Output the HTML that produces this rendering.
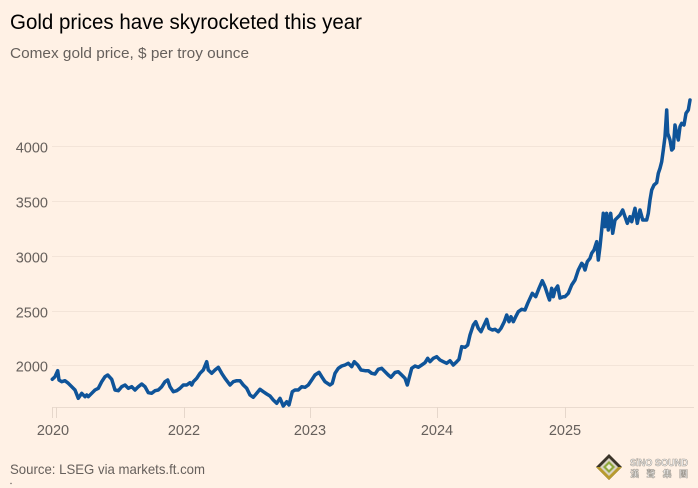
<!DOCTYPE html>
<html>
<head>
<meta charset="utf-8">
<style>
  html, body { margin:0; padding:0; background:#FFF1E5; }
  body { width:698px; height:488px; overflow:hidden; }
  svg { display:block; }
  text { font-family: "Liberation Sans", "Noto Sans CJK TC", sans-serif; }
</style>
</head>
<body>
<svg width="698" height="488" viewBox="0 0 698 488" xmlns="http://www.w3.org/2000/svg">
  <rect x="0" y="0" width="698" height="488" fill="#FFF1E5"/>

  <!-- Title / subtitle -->
  <text x="10" y="29" font-size="21" fill="#000000" textLength="352" lengthAdjust="spacingAndGlyphs">Gold prices have skyrocketed this year</text>
  <text x="10" y="58" font-size="15" fill="#66605C" textLength="239" lengthAdjust="spacingAndGlyphs">Comex gold price, $ per troy ounce</text>

  <!-- Gridlines -->
  <g stroke="#F3E4D8" stroke-width="1">
    <line x1="52" y1="146.5" x2="694" y2="146.5"/>
    <line x1="52" y1="201.5" x2="694" y2="201.5"/>
    <line x1="52" y1="256.5" x2="694" y2="256.5"/>
    <line x1="52" y1="311.5" x2="694" y2="311.5"/>
    <line x1="52" y1="365.5" x2="694" y2="365.5"/>
  </g>
  <line x1="52" y1="407.5" x2="694" y2="407.5" stroke="#EADBCF" stroke-width="1"/>

  <!-- X ticks -->
  <g stroke="#E6D7CB" stroke-width="1">
    <line x1="52.5" y1="407" x2="52.5" y2="418"/>
    <line x1="56.5" y1="407" x2="56.5" y2="418"/>
    <line x1="184.5" y1="407" x2="184.5" y2="418"/>
    <line x1="310.5" y1="407" x2="310.5" y2="418"/>
    <line x1="437.5" y1="407" x2="437.5" y2="418"/>
    <line x1="565.5" y1="407" x2="565.5" y2="418"/>
  </g>

  <!-- Y labels -->
  <g font-size="14.5" fill="#66605C" text-anchor="end">
    <text x="48" y="152.5">4000</text>
    <text x="48" y="207.5">3500</text>
    <text x="48" y="262.5">3000</text>
    <text x="48" y="317.5">2500</text>
    <text x="48" y="371.5">2000</text>
  </g>

  <!-- X labels -->
  <g font-size="14.5" fill="#66605C" text-anchor="middle">
    <text x="53" y="435">2020</text>
    <text x="184" y="435">2022</text>
    <text x="310" y="435">2023</text>
    <text x="437" y="435">2024</text>
    <text x="565" y="435">2025</text>
  </g>

  <!-- Series -->
  <polyline fill="none" stroke="#0F5499" stroke-width="3.5" stroke-linejoin="round" stroke-linecap="round"
    points="52.3,379.3 55,376.7 57.7,370.7 59,380 61.7,381.7 65,380.7 68.3,383.3 71.7,386.7 75,390 78.3,398.3 81.7,393.3 85,396.7 86.7,395 88.3,396.7 91.7,393.3 95,390 98.3,388.3 101.7,381.7 105,376.7 107.7,375 111.7,379.3 115,390 118.3,390.7 121.7,386.7 125,385 128.3,388.3 131.7,386.7 135,390 138.3,386.7 141.7,384 145,386.7 148.3,392.7 151.7,393.3 155,390.7 158.3,390 161.7,386.7 165,381.7 167.7,380 170,386.7 173.3,391.7 176.7,390.7 180,388.3 183.3,385 186.7,385 190,382.7 191.7,385 193.3,381.7 196.7,378.3 200,373.3 203.3,370 206.7,361.7 208.3,370 211.7,373.3 215,370 218.3,367.3 221.7,373.3 225,378.3 230,385 233.3,381.7 236.7,380.7 240,380.7 243.3,385 246.7,388.3 250,395 253.3,397.3 256.7,393.3 260,389.3 263.3,391.7 266.7,394 270,396 273.3,400 276.7,403.3 280,398.3 283.3,406 286.7,401.7 289,405 292.3,391.7 295,390 298.3,390 301.7,386.7 305,387.3 308.3,385 311.7,380 315,375 319,372.3 321.7,376.7 325,381.7 330,385 332.3,383.3 335,373.3 338.3,368.3 341.7,366 345,365 348.3,363.3 351.7,366.7 354.3,361.7 357.7,365 361,370 365,370.7 368.3,370.7 371.7,373.3 375,374 378.3,369.3 381.7,368.3 385,371.7 388.3,375 391,377.3 395,372.5 398.3,371.7 401.7,375 405,378.3 407.3,385 411.7,368.3 415,366 418.3,367.3 421.7,365 425,362.7 427.7,358.3 430,361.7 433.3,358.3 436.7,356.7 440,360 443.3,361.7 446.7,363.3 450,360.7 453.3,365 456.7,361.7 459,359.3 461.7,346.7 465,347.3 467.7,345 470,335 473.3,325 475.7,321.7 478.3,328.3 481,331.7 483.3,326.7 486.7,319.3 489,328.3 492.3,330 495,329.3 498.3,331.7 501,328.3 504.3,321.7 506.7,315 509,321.7 511,316.7 513.3,321.7 515.7,316.7 518.3,311.7 521.7,309.3 525,310 527.7,303.3 530,298.3 532.3,293.3 535.7,296.7 539,288.3 542.3,280.7 545,286.7 548.3,296.7 549.5,300 551.7,288.3 553.3,296.7 555,290 557.7,286 560,298 563.3,296.7 565,296.7 568.3,293.3 571.7,285 575,280 578.3,270 581.7,263.3 583.3,265 585,270 587.3,261.7 590,258.3 591.7,253.3 594,250 596.7,241.7 598.3,260 600,246.7 601.7,230 603.3,213.3 605,226.7 606.7,213.3 608.3,230 610.7,213.3 612.7,233.3 615,220 616.7,218.3 620,215 622.7,210 625,216.7 627.3,223.3 630,216.7 631.7,221.7 635,208.3 637.3,223.3 640,210 642.7,220 646.7,220 648.3,213.3 650,200 651.7,190 654,185 656.7,182.7 658.3,173.3 660,168.3 661.7,161.7 663.3,150 665,136.7 666.7,110 667.7,133.3 670,140 671.7,150 673.3,148.3 675,125 676.7,133.3 678.3,140 680,126.7 681.7,123.3 684,125 686,113.3 688.3,110 690,100"/>

  <!-- Source -->
  <text x="10" y="474" font-size="14" fill="#66605C" textLength="195" lengthAdjust="spacingAndGlyphs">Source: LSEG via markets.ft.com</text>
  <circle cx="11" cy="483.5" r="0.7" fill="#66605C"/>

  <!-- Watermark -->
  <g>
    <polygon points="609,454 622,467 609,480 596,467" fill="#3B3428"/>
    <polygon points="596,467 622,467 609,480" fill="#B89B2E"/>
    <polygon points="609,458 618,467 609,476 600,467" fill="#D8D2C2"/>
    <polygon points="609,461 615,467 609,473 603,467" fill="#8FA83C"/>
    <polygon points="609,464 612,467 609,470 606,467" fill="#EDEBD8"/>
    <text x="630" y="466" font-size="10" font-weight="bold" fill="#FFFFFF" stroke="#A09A92" stroke-width="0.6" textLength="58" lengthAdjust="spacingAndGlyphs">SiNO SOUND</text>
    <text x="630" y="477" font-size="9" font-weight="bold" fill="#FFFFFF" stroke="#A09A92" stroke-width="0.5" textLength="58" lengthAdjust="spacing">漢 聲 集 團</text>
  </g>
</svg>
</body>
</html>
